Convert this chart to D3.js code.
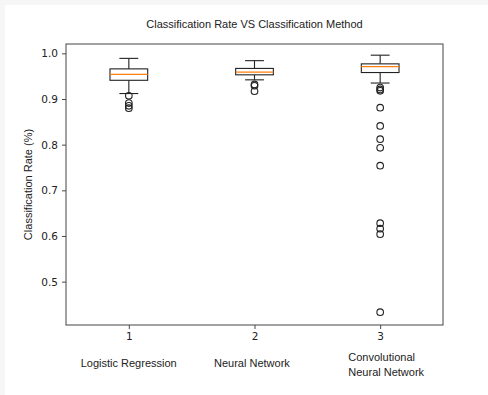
<!DOCTYPE html>
<html>
<head>
<meta charset="utf-8">
<script src="https://cdn.jsdelivr.net/npm/d3@7"></script>
<style>
  body { margin: 0; background: #f6f6f6; }
  svg { display: block; }
</style>
</head>
<body>
<svg id="chart" width="488" height="395"></svg>
<script>
// box statistics
const positions = [1, 2, 3];
const methods = [["Logistic Regression"], ["Neural Network"], ["Convolutional", "Neural Network"]];
const q1 = [0.941, 0.953, 0.958];
const medians = [0.954, 0.959, 0.971];
const q3 = [0.966, 0.967, 0.977];
const whiskerLow = [0.912, 0.942, 0.935];
const whiskerHigh = [0.989, 0.984, 0.996];
const outliers = [
    [0.907, 0.891, 0.885, 0.880],
    [0.932, 0.929, 0.917],
    [0.925, 0.921, 0.918, 0.881, 0.841, 0.812, 0.793, 0.754, 0.628, 0.616, 0.604, 0.433]
];
const yTicks = [0.5, 0.6, 0.7, 0.8, 0.9, 1.0];

const svg = d3.select("#chart");
svg.append("rect").attr("x", 5).attr("y", 5).attr("width", 483).attr("height", 390).attr("fill", "#fff");

const pLeft = 66, pRight = 443, pTop = 44, pBottom = 325;
const x = d3.scaleLinear().domain([0.5, 3.5]).range([pLeft, pRight]);
const y = d3.scaleLinear().domain([0.405, 1.0205]).range([pBottom, pTop]);

const boxW = 0.3;

// axes
let gx = svg.append("g").attr("transform", "translate(0," + pBottom + ")")
    .call(d3.axisBottom(x).tickValues(positions).tickFormat(d3.format("d")).tickSize(4).tickPadding(4));
let gy = svg.append("g").attr("transform", "translate(" + pLeft + ",0)")
    .call(d3.axisLeft(y).tickValues(yTicks).tickFormat(d3.format(".1f")).tickSize(4).tickPadding(4));
for (let g of [gx, gy]) {
    g.select(".domain").remove();
    g.selectAll("line").attr("stroke", "#333").attr("stroke-width", 0.9);
    g.selectAll("text").attr("font-family", "DejaVu Sans").attr("font-size", 10.5).attr("fill", "#222");
}

svg.append("rect")
    .attr("x", pLeft).attr("y", pTop).attr("width", pRight - pLeft).attr("height", pBottom - pTop)
    .attr("fill", "none").attr("stroke", "#444").attr("stroke-width", 1);

// boxes
let boxes = svg.selectAll(".box").data(positions).enter().append("g").attr("class", "box");

boxes.append("line")
    .attr("x1", d => x(d)).attr("x2", d => x(d))
    .attr("y1", (d, i) => y(q3[i])).attr("y2", (d, i) => y(whiskerHigh[i]))
    .attr("stroke", "#222").attr("stroke-width", 1.1);
boxes.append("line")
    .attr("x1", d => x(d)).attr("x2", d => x(d))
    .attr("y1", (d, i) => y(q1[i])).attr("y2", (d, i) => y(whiskerLow[i]))
    .attr("stroke", "#222").attr("stroke-width", 1.1);
// caps
for (let arr of [whiskerHigh, whiskerLow]) {
    boxes.append("line")
        .attr("x1", d => x(d - boxW / 4)).attr("x2", d => x(d + boxW / 4))
        .attr("y1", (d, i) => y(arr[i])).attr("y2", (d, i) => y(arr[i]))
        .attr("stroke", "#222").attr("stroke-width", 1.1);
}
boxes.append("rect")
    .attr("x", d => x(d - boxW / 2)).attr("width", d => x(d + boxW / 2) - x(d - boxW / 2))
    .attr("y", (d, i) => y(q3[i])).attr("height", (d, i) => y(q1[i]) - y(q3[i]))
    .attr("fill", "#fff").attr("stroke", "#222").attr("stroke-width", 1.1);
boxes.append("line")
    .attr("x1", d => x(d - boxW / 2)).attr("x2", d => x(d + boxW / 2))
    .attr("y1", (d, i) => y(medians[i])).attr("y2", (d, i) => y(medians[i]))
    .attr("stroke", "#ff7f0e").attr("stroke-width", 1.1);

boxes.each(function (d, i) {
    d3.select(this).selectAll("circle").data(outliers[i]).enter().append("circle")
        .attr("cx", x(d)).attr("cy", v => y(v)).attr("r", 3.3)
        .attr("fill", "none").attr("stroke", "#222").attr("stroke-width", 1.1);
});

// texts
svg.append("text").attr("x", (pLeft + pRight) / 2).attr("y", 28)
    .attr("text-anchor", "middle").attr("font-family", "Liberation Sans, Arial").attr("font-size", 11)
    .attr("fill", "#222").text("Classification Rate VS Classification Method");

svg.append("text").attr("transform", "translate(32," + (pTop + pBottom) / 2 + ") rotate(-90)")
    .attr("text-anchor", "middle").attr("font-family", "Liberation Sans, Arial").attr("font-size", 11)
    .attr("fill", "#222").text("Classification Rate (%)");

const labelX = [80.7, 214, 348.3];
methods.forEach((lines, i) => {
    let t = svg.append("text").attr("font-family", "Liberation Sans, Arial").attr("font-size", 11).attr("fill", "#222");
    let y0 = lines.length === 1 ? 366.5 : 360.5;
    lines.forEach((s, j) => {
        t.append("tspan").attr("x", labelX[i]).attr("y", y0 + j * 15).text(s);
    });
});
</script>
</body>
</html>
